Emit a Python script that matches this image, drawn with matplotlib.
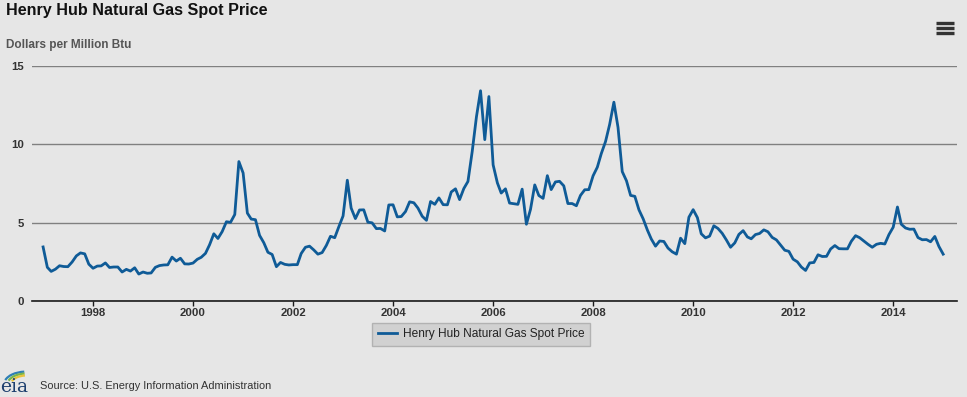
import numpy as np
import pandas as pd
import matplotlib
matplotlib.use("Agg")
import matplotlib.pyplot as plt
import matplotlib.dates as mdates
from matplotlib.patches import Arc

# Henry Hub monthly spot price, $/MMBtu, Jan 1997 - Jan 2015
p1997 = [3.45, 2.15, 1.89, 2.03, 2.25, 2.20, 2.19, 2.49, 2.88, 3.07, 3.01, 2.35]
p1998 = [2.09, 2.23, 2.24, 2.43, 2.14, 2.17, 2.17, 1.85, 2.02, 1.91, 2.12, 1.72]
p1999 = [1.85, 1.77, 1.79, 2.15, 2.26, 2.30, 2.31, 2.80, 2.55, 2.73, 2.37, 2.36]
p2000 = [2.42, 2.66, 2.79, 3.04, 3.59, 4.29, 3.99, 4.43, 5.06, 5.02, 5.52, 8.90]
p2001 = [8.17, 5.61, 5.23, 5.19, 4.19, 3.72, 3.11, 2.97, 2.19, 2.46, 2.34, 2.30]
p2002 = [2.32, 2.32, 3.03, 3.43, 3.50, 3.26, 2.99, 3.09, 3.55, 4.13, 4.04, 4.74]
p2003 = [5.43, 7.71, 5.93, 5.26, 5.81, 5.82, 5.03, 4.99, 4.62, 4.63, 4.47, 6.13]
p2004 = [6.14, 5.37, 5.39, 5.71, 6.33, 6.27, 5.93, 5.41, 5.15, 6.35, 6.17, 6.58]
p2005 = [6.15, 6.14, 6.96, 7.16, 6.47, 7.18, 7.63, 9.53, 11.75, 13.42, 10.30, 13.05]
p2006 = [8.69, 7.54, 6.89, 7.16, 6.25, 6.21, 6.17, 7.14, 4.90, 5.85, 7.41, 6.73]
p2007 = [6.55, 8.00, 7.11, 7.60, 7.64, 7.35, 6.22, 6.22, 6.08, 6.74, 7.10, 7.11]
p2008 = [7.99, 8.54, 9.41, 10.18, 11.27, 12.69, 11.09, 8.26, 7.67, 6.74, 6.68, 5.82]
p2009 = [5.24, 4.52, 3.96, 3.50, 3.83, 3.80, 3.38, 3.14, 2.99, 4.01, 3.66, 5.35]
p2010 = [5.83, 5.32, 4.29, 4.03, 4.14, 4.80, 4.63, 4.32, 3.89, 3.43, 3.71, 4.25]
p2011 = [4.49, 4.09, 3.97, 4.24, 4.31, 4.54, 4.42, 4.06, 3.90, 3.57, 3.24, 3.17]
p2012 = [2.67, 2.50, 2.17, 1.95, 2.43, 2.46, 2.95, 2.84, 2.85, 3.32, 3.54, 3.34]
p2013 = [3.33, 3.33, 3.81, 4.17, 4.04, 3.83, 3.62, 3.43, 3.62, 3.68, 3.64, 4.24]
p2014 = [4.71, 6.00, 4.90, 4.66, 4.58, 4.59, 4.05, 3.91, 3.92, 3.78, 4.12, 3.48]
p2015 = [2.99]

prices = (p1997 + p1998 + p1999 + p2000 + p2001 + p2002 + p2003 + p2004 + p2005
          + p2006 + p2007 + p2008 + p2009 + p2010 + p2011 + p2012 + p2013
          + p2014 + p2015)
months = pd.date_range("1997-01-01", periods=len(prices), freq="MS")

y_ticks = [0, 5, 10, 15]
series_name = "Henry Hub Natural Gas Spot Price"

BG = "#e6e6e6"
LINE = "#0f5b97"

plt.rcParams["font.family"] = ["Liberation Sans", "DejaVu Sans"]

fig = plt.figure(figsize=(9.67, 3.97), dpi=100, facecolor=BG)
ax = fig.add_axes([32 / 967, 1 - 301 / 397, 925 / 967, 235 / 397])
ax.set_facecolor(BG)

ax.plot(months, prices, color=LINE, lw=2, solid_joinstyle="round", zorder=3)

ax.set_ylim(0, 15)
ax.set_yticks(y_ticks)
ax.set_xlim(pd.Timestamp("1996-10-12"), pd.Timestamp("2015-04-12"))
ax.xaxis.set_major_locator(mdates.YearLocator(2))
ax.xaxis.set_major_formatter(mdates.DateFormatter("%Y"))

ax.grid(axis="y", color="#808080", lw=1)
ax.set_axisbelow(True)
for s in ["top", "right", "left"]:
    ax.spines[s].set_visible(False)
ax.spines["bottom"].set_color("#1a1a1a")
ax.spines["bottom"].set_linewidth(1.2)
ax.spines["bottom"].set_zorder(4)

ax.tick_params(axis="y", length=0, pad=6, labelsize=8.2, labelcolor="#333333")
ax.tick_params(axis="x", direction="out", length=3.5, width=1, color="#1a1a1a",
               pad=1.5, labelsize=8.2, labelcolor="#333333")
for lbl in ax.get_xticklabels() + ax.get_yticklabels():
    lbl.set_fontweight("bold")

# titles
fig.text(6 / 967, 1 - 10 / 397, series_name, fontsize=11.6, fontweight="bold",
         color="#111111", va="center", ha="left")
fig.text(6 / 967, 1 - 45 / 397, "Dollars per Million Btu", fontsize=8.5,
         fontweight="bold", color="#555555", va="center", ha="left")

# legend
leg = ax.legend([series_name], loc="upper center", bbox_to_anchor=(0.4855, -0.068),
                frameon=True, fontsize=8.6, handlelength=1.6, borderpad=0.45,
                handletextpad=0.5, fancybox=False)
leg.get_frame().set_facecolor("#cccccc")
leg.get_frame().set_edgecolor("#a8a8a8")
leg.get_frame().set_linewidth(1)
for t in leg.get_texts():
    t.set_color("#222222")

# source line
fig.text(40 / 967, 1 - 386 / 397, "Source: U.S. Energy Information Administration",
         fontsize=7.9, color="#333333", va="center", ha="left")

# eia logo
fig.text(0 / 967, 1 - 387 / 397, "eia", family="DejaVu Serif", fontsize=13.5,
         color="#1d3f6e", va="center", ha="left")
logo = fig.add_axes([3 / 967, 1 - 382 / 397, 26 / 967, 13 / 397])
logo.set_xlim(0, 1)
logo.set_ylim(0, 1)
logo.axis("off")
for r, c in [(0.95, "#2f7fb5"), (0.8, "#7ab648"), (0.65, "#e8c33c")]:
    logo.add_patch(Arc((0.9, -0.15), 2 * r * 0.9, 2 * r, theta1=95, theta2=160,
                       color=c, lw=1.6))

# menu icon
for yy in [23, 28, 33]:
    fig.add_artist(plt.Line2D([936 / 967, 954 / 967], [1 - yy / 397] * 2,
                              color="#333333", lw=2.4, solid_capstyle="butt"))

fig.savefig("out.png", dpi=100, facecolor=BG)
